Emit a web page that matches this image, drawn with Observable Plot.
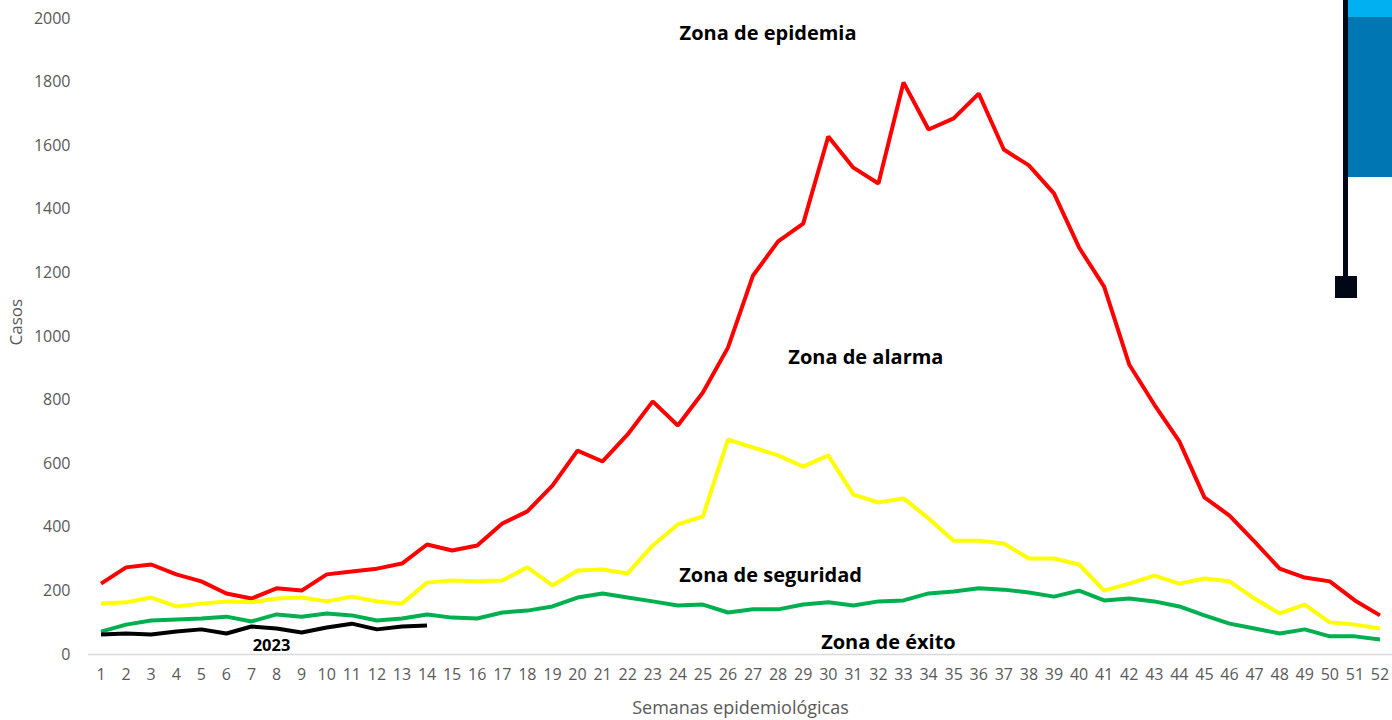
<!DOCTYPE html>
<html><head><meta charset="utf-8">
<script src="https://cdn.jsdelivr.net/npm/d3@7"></script>
<script src="https://cdn.jsdelivr.net/npm/@observablehq/plot@0.6"></script>
<style>
body{margin:0;background:#fff;}
#wrap{position:relative;width:1392px;height:720px;overflow:hidden;font-family:"Open Sans",sans-serif;background:#fff}
.deco{position:absolute}
</style></head><body><div id="wrap"></div>
<script>
const weeks = d3.range(1, 53);
const epidemia = [223,274,283,252,230,192,176,208,201,252,261,270,286,346,327,343,412,450,531,641,607,692,796,720,824,965,1192,1299,1355,1629,1531,1481,1799,1651,1686,1764,1588,1538,1450,1280,1157,912,786,670,494,437,355,270,242,230,170,123];
const alarma = [160,164,179,151,160,167,164,176,179,167,182,167,160,226,233,230,233,274,217,264,267,255,343,409,434,676,651,626,591,626,503,478,491,428,358,358,349,302,302,283,201,223,248,223,239,230,176,129,157,101,94,82];
const seguridad = [72,94,107,110,113,119,104,126,119,129,123,107,113,126,116,113,132,138,151,179,192,179,167,154,157,132,142,142,157,164,154,167,170,192,198,208,204,195,182,201,170,176,167,151,123,97,82,66,79,57,57,47];
const casos2023 = [63,66,63,72,79,66,88,82,69,85,97,79,88,91];
const seriesNames = ["Epidemia", "Alarma", "Seguridad", "2023"];
const seriesColors = ["#FF0000", "#FFFF00", "#00B050", "#000000"];
const yTicks = d3.range(0, 2001, 200);
const zoneLabels = ["Zona de epidemia", "Zona de alarma", "Zona de seguridad", "Zona de éxito"];
const zoneX = [27.6, 31.5, 27.7, 32.4];
const zoneY = [1953, 934, 248, 36];
const yearLabel = ["2023"];
const yearX = [7.8];
const yearY = [28];

const rows = [];
[epidemia, alarma, seguridad, casos2023].forEach((arr, i) => {
  arr.forEach((v, j) => rows.push({serie: seriesNames[i], semana: weeks[j], casos: v}));
});
const labelRows = zoneLabels.map((t, i) => ({t, x: zoneX[i], y: zoneY[i]}));
const yearRows = yearLabel.map((t, i) => ({t, x: yearX[i], y: yearY[i]}));

const chart = Plot.plot({
  width: 1392,
  height: 720,
  marginLeft: 88,
  marginRight: 0,
  marginTop: 18,
  marginBottom: 66,
  style: {fontFamily: "'Open Sans', sans-serif", background: "#fff"},
  x: {domain: [0.5, 52.5]},
  y: {domain: [0, 2000]},
  color: {domain: seriesNames, range: seriesColors},
  marks: [
    Plot.ruleY([0], {stroke: "#d9d9d9", strokeWidth: 1.5}),
    Plot.axisY({ticks: yTicks, tickSize: 0, tickPadding: 18, fontSize: 16, fill: "#595959", label: null, tickFormat: d => String(d)}),
    Plot.axisX({ticks: weeks, tickSize: 0, tickPadding: 14, fontSize: 16, fill: "#595959", label: null, tickFormat: d => String(d)}),
    Plot.text(["Semanas epidemiológicas"], {frameAnchor: "bottom", dy: 54, fontSize: 18, fill: "#595959", lineAnchor: "middle"}),
    Plot.text(["Casos"], {frameAnchor: "left", dx: -72, dy: 9, rotate: -90, fontSize: 17, fill: "#595959", lineAnchor: "middle"}),
    Plot.line(rows, {x: "semana", y: "casos", z: "serie", stroke: "serie", strokeWidth: 4, strokeLinejoin: "miter", strokeLinecap: "butt"}),
    Plot.text(labelRows, {x: "x", y: "y", text: "t", fontSize: 20, fontWeight: "bold", fill: "#000", lineAnchor: "middle"}),
    Plot.text(yearRows, {x: "x", y: "y", text: "t", fontSize: 16.5, fontWeight: "bold", fill: "#000", lineAnchor: "middle"})
  ]
});
const wrap = document.getElementById("wrap");
wrap.appendChild(chart);
const decos = [
  {l: 1348, t: 0, w: 44, h: 17, c: "#00B0F0"},
  {l: 1348, t: 17, w: 44, h: 160, c: "#0077B3"},
  {l: 1343, t: 0, w: 5, h: 278, c: "#000818"},
  {l: 1335, t: 276, w: 22, h: 22, c: "#000818"}
];
decos.forEach(d => {
  const el = document.createElement("div");
  el.className = "deco";
  Object.assign(el.style, {left: d.l + "px", top: d.t + "px", width: d.w + "px", height: d.h + "px", background: d.c});
  wrap.appendChild(el);
});
</script></body></html>
